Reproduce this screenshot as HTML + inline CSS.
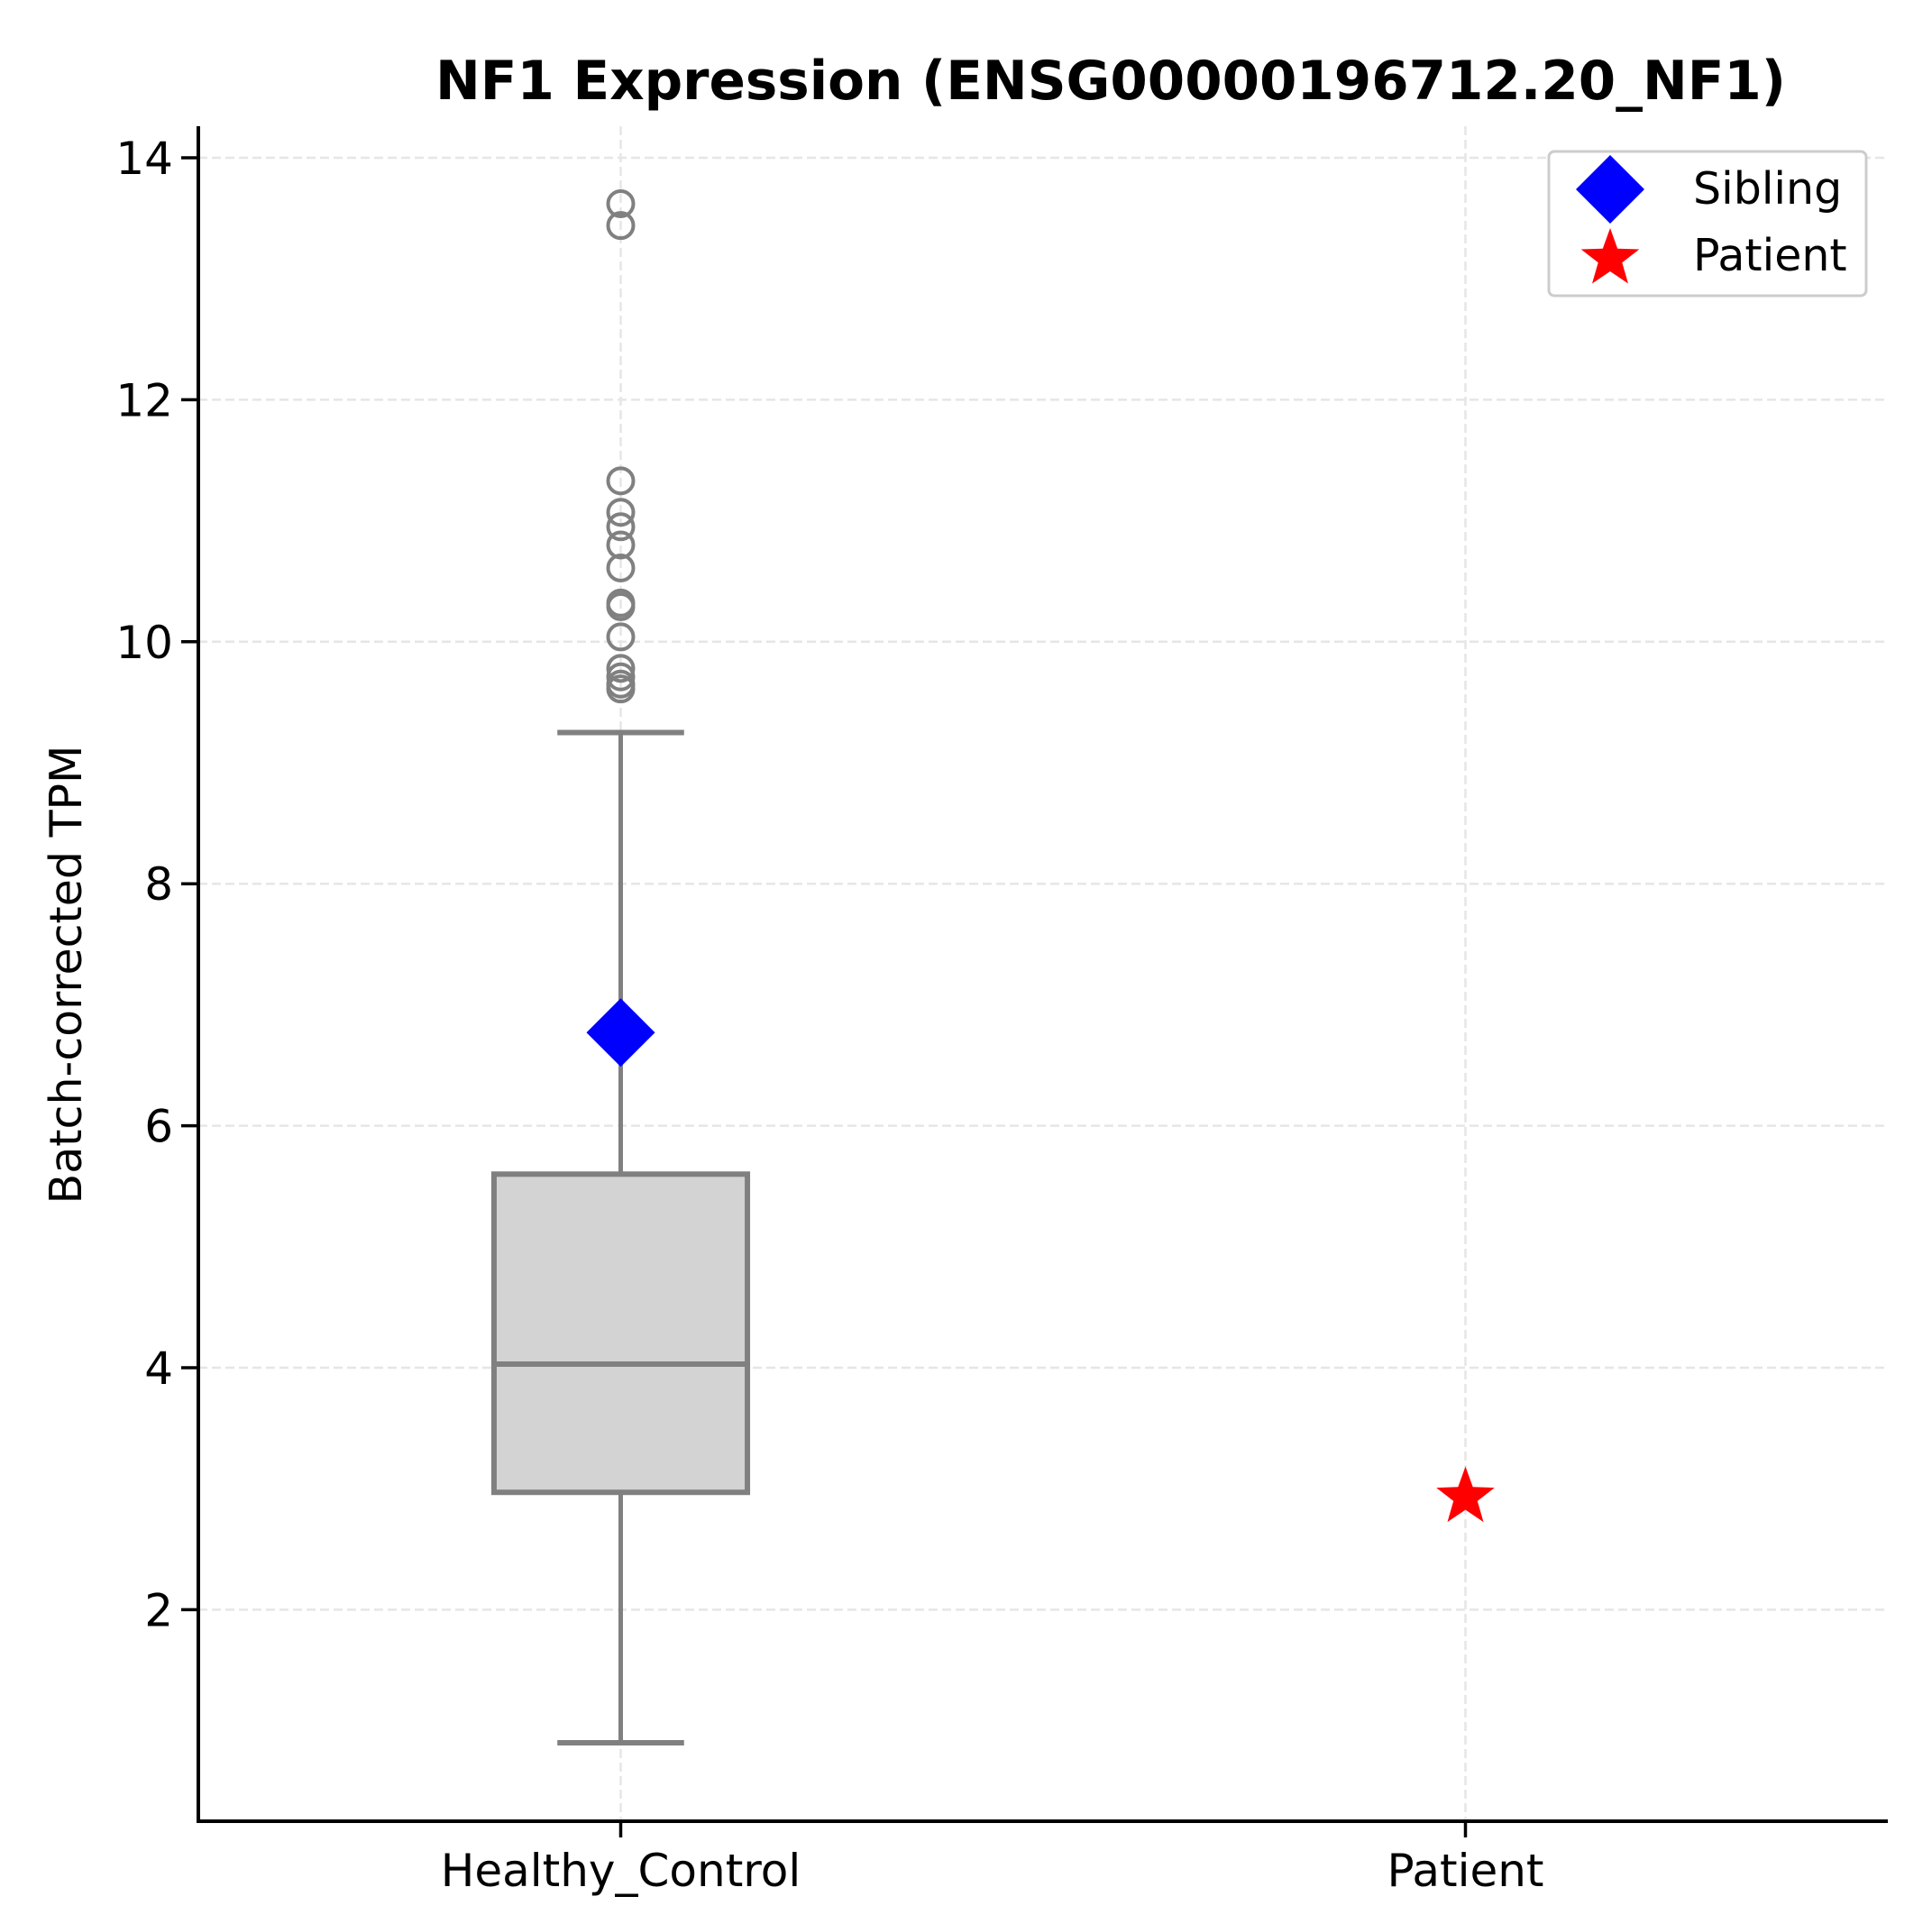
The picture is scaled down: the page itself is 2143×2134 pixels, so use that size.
<!DOCTYPE html>
<html><head><meta charset="utf-8"><style>
html,body{margin:0;padding:0;background:#fff;}
svg{display:block;font-family:"DejaVu Sans","Liberation Sans",sans-serif;}
</style></head><body>
<svg id="chart" width="2143" height="2134" viewBox="0 0 2143 2134" xmlns="http://www.w3.org/2000/svg">
<text x="1232" y="110" text-anchor="middle" font-size="60" font-weight="bold" textLength="1498" lengthAdjust="spacingAndGlyphs">NF1 Expression (ENSG00000196712.20_NF1)</text>
<text transform="translate(90,1081) rotate(-90)" text-anchor="middle" font-size="49">Batch-corrected TPM</text>
<g id="grid"></g><g id="marks"></g><g id="axes"></g>
<g>
<rect x="1718" y="168" width="352" height="160" rx="6" fill="#fff" stroke="#ccc" stroke-width="3"/>
<polygon points="1786,172 1824,210 1786,248 1748,210" fill="#0000ff"/>
<text x="1878" y="226" font-size="49">Sibling</text>
<polygon id="legstar" fill="#ff0000"/>
<text x="1878" y="300" font-size="49">Patient</text>
</g>
</svg>
<script>
const categories = ["Healthy_Control", "Patient"];
const yTicks = [2, 4, 6, 8, 10, 12, 14];
const boxStats = [0.9, 2.97, 4.03, 5.6, 9.25]; // whislo, q1, median, q3, whishi
const outliers = [13.62, 13.44, 11.33, 11.07, 10.95, 10.8, 10.61, 10.32, 10.29, 10.04, 9.78, 9.71, 9.65, 9.61];
const siblingValue = [6.77];
const patientValue = [2.93];

const NS = "http://www.w3.org/2000/svg";
const L = 220, R = 2094, T = 140, B = 2020;
const T14 = 175, pxPerUnit = 134.2;
const yMin = 14 - (B - T14) / pxPerUnit, yMax = 14 + (T14 - T) / pxPerUnit, xMin = -0.5, xMax = 1.5;
const y = v => B - (v - yMin) / (yMax - yMin) * (B - T);
const x = i => L + (i - xMin) / (xMax - xMin) * (R - L);
function mk(tag, attrs, parent) { const e = document.createElementNS(NS, tag); for (const k in attrs) e.setAttribute(k, attrs[k]); parent.appendChild(e); return e; }
const grid = document.getElementById('grid'), marks = document.getElementById('marks'), axes = document.getElementById('axes');

yTicks.forEach(t => {
  const g = mk('line', {x1: L, x2: R, y1: y(t), y2: y(t), stroke: '#e6e6e6', 'stroke-width': 2.5, 'stroke-dasharray': '10,5'}, grid);
  
  
  const tk = mk('line', {x1: L - 19, x2: L, y1: y(t), y2: y(t), stroke: '#000', 'stroke-width': 3.5}, axes);
  
  
  const lb = mk('text', {x: L - 28, y: y(t) + 18, 'text-anchor': 'end', 'font-size': 50}, axes);
  lb.textContent = t;
  
  
});
categories.forEach((c, i) => {
  const g = mk('line', {x1: x(i), x2: x(i), y1: T, y2: B, stroke: '#e6e6e6', 'stroke-width': 2.5, 'stroke-dasharray': '10,5'}, grid);
  
  
  const tk = mk('line', {x1: x(i), x2: x(i), y1: B, y2: B + 18, stroke: '#000', 'stroke-width': 3.5}, axes);
  
  
  const lb = mk('text', {x: x(i), y: B + 72, 'text-anchor': 'middle', 'font-size': 50}, axes);
  lb.textContent = c;
  
  
});
const sp1 = mk('line', {x1: L, x2: L, y1: T, y2: B + 2, stroke: '#000', 'stroke-width': 4}, axes);


const sp2 = mk('line', {x1: L - 2, x2: R, y1: B, y2: B, stroke: '#000', 'stroke-width': 4}, axes);



// box
const cx = x(0), bw = (x(0.15) - x(0)), cw = (x(0.075) - x(0));
const gray = '#808080';
const wl = mk('line', {x1: cx, x2: cx, y1: y(boxStats[0]), y2: y(boxStats[1]), stroke: gray, 'stroke-width': 5}, marks);


const wh = mk('line', {x1: cx, x2: cx, y1: y(boxStats[4]), y2: y(boxStats[3]), stroke: gray, 'stroke-width': 5}, marks);


[boxStats[0], boxStats[4]].forEach(v => {
  const cap = mk('line', {x1: cx - cw, x2: cx + cw, y1: y(v), y2: y(v), stroke: gray, 'stroke-width': 6}, marks);
  
  
});
const box = mk('rect', {x: cx - bw, y: y(boxStats[3]), width: 2 * bw, height: y(boxStats[1]) - y(boxStats[3]), fill: '#d3d3d3', stroke: gray, 'stroke-width': 6}, marks);


const med = mk('line', {x1: cx - bw, x2: cx + bw, y1: y(boxStats[2]), y2: y(boxStats[2]), stroke: gray, 'stroke-width': 6}, marks);


outliers.forEach(v => {
  const o = mk('circle', {cx: cx, cy: y(v), r: 14, fill: 'none', stroke: gray, 'stroke-width': 4}, marks);
  
  
});
siblingValue.forEach(v => {
  const sy = y(v), d = 38;
  const p = mk('polygon', {points: `${cx},${sy - d} ${cx + d},${sy} ${cx},${sy + d} ${cx - d},${sy}`, fill: '#0000ff'}, marks);
  
  
});
function starPts(px, py, ro, ri) {
  const pts = [];
  for (let k = 0; k < 10; k++) { const a = -Math.PI / 2 + k * Math.PI / 5; const r = k % 2 ? ri : ro; pts.push((px + r * Math.cos(a)).toFixed(1) + ',' + (py + r * Math.sin(a)).toFixed(1)); }
  return pts.join(' ');
}
patientValue.forEach(v => {
  const s = mk('polygon', {points: starPts(x(1), y(v), 34, 14), fill: '#ff0000'}, marks);
  
  
});
document.getElementById('legstar').setAttribute('points', starPts(1786, 287, 34, 14));
</script>
</body></html>
